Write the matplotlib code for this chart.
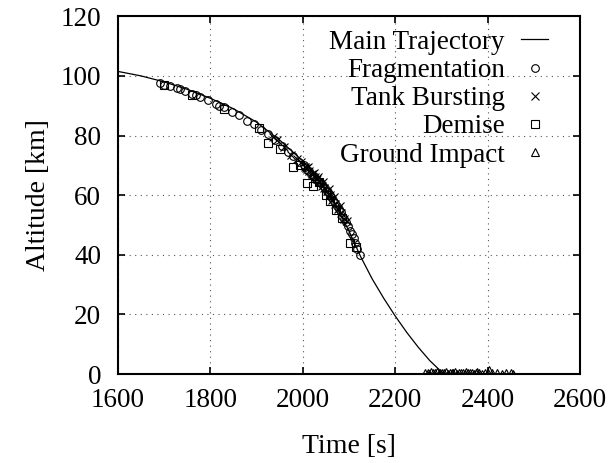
import matplotlib
matplotlib.use("Agg")
import matplotlib.pyplot as plt
import numpy as np

plt.rcParams["font.family"] = ["Liberation Serif", "DejaVu Serif"]

# main trajectory (time [s], altitude [km])
traj_t = [1600, 1650, 1700, 1750, 1800, 1850, 1900, 1950, 2000, 2025, 2050,
          2075, 2100, 2125, 2150, 2175, 2200, 2225, 2250, 2275, 2300, 2310]
traj_h = [101.5, 100.0, 98.0, 95.5, 92.5, 89.0, 84.5, 78.5, 71.5, 67.0, 62.0,
          55.5, 48.0, 39.5, 32.0, 25.5, 19.5, 14.0, 9.0, 4.5, 0.8, 0.0]

frag_t = [1692, 1700, 1712, 1728, 1735, 1745, 1760, 1770, 1778, 1795, 1812,
          1820, 1830, 1848, 1862, 1880, 1895, 1910, 1925, 1940, 1955, 1968,
          1980, 1992, 2002, 2006, 2010, 2014, 2018, 2022, 2025, 2028, 2032,
          2036, 2040, 2044, 2048, 2052, 2055, 2058, 2062, 2066, 2070, 2074,
          2078, 2082, 2086, 2090, 2094, 2098, 2102, 2106, 2110, 2114, 2118,
          2124]
frag_h = [97.5, 97.0, 96.5, 96.0, 95.5, 95.0, 94.0, 93.5, 93.0, 92.0, 90.5,
          90.0, 89.5, 88.0, 87.0, 85.0, 84.0, 82.0, 80.5, 78.5, 76.5, 74.5,
          73.0, 71.0, 70.0, 69.5, 68.5, 68.0, 67.0, 66.5, 66.5, 65.5, 65.0,
          64.5, 64.0, 63.0, 62.5, 61.5, 61.0, 60.0, 59.5, 58.5, 57.5, 56.5,
          55.5, 54.5, 53.0, 52.0, 51.0, 49.5, 48.0, 47.0, 45.5, 44.0, 42.0,
          40.0]

tank_t = [1935, 1945, 1960, 1975, 1988, 1996, 2004, 2008, 2014, 2020, 2026,
          2030, 2036, 2042, 2046, 2052, 2058, 2064, 2070, 2076, 2082, 2090,
          2012, 2024, 2034, 2044, 2056, 2068, 2080, 2096]
tank_h = [79.5, 78.5, 76.0, 73.5, 72.0, 71.0, 69.5, 69.0, 68.0, 67.0, 66.0,
          65.5, 64.5, 63.0, 62.5, 61.5, 60.0, 58.5, 57.0, 55.5, 54.0, 52.0,
          69.5, 67.5, 66.0, 64.5, 62.0, 59.5, 56.5, 51.5]

demise_t = [1700, 1760, 1830, 1905, 1925, 1950, 1980, 1995, 2010, 2022, 2035,
            2050, 2060, 2072, 2085, 2102, 2115]
demise_h = [97.0, 93.5, 89.0, 82.5, 77.5, 75.5, 69.5, 70.0, 64.0, 63.0, 64.5,
            60.0, 58.0, 55.0, 52.5, 44.0, 42.5]

ground_t = [2265, 2270, 2274, 2278, 2282, 2286, 2290, 2294, 2298, 2302, 2306,
            2310, 2314, 2318, 2322, 2326, 2330, 2334, 2338, 2342, 2346, 2350,
            2354, 2358, 2362, 2366, 2370, 2374, 2378, 2382, 2388, 2394, 2400,
            2404, 2410, 2420, 2430, 2440, 2450, 2455]
ground_h = [0.3, 0.5, 0.2, 0.6, 0.4, 0.3, 0.7, 0.2, 0.5, 0.4, 0.3, 0.6, 0.2,
            0.5, 0.4, 0.3, 0.6, 0.2, 0.4, 0.5, 0.3, 0.2, 0.6, 0.4, 0.3, 0.5,
            0.2, 0.4, 0.6, 0.3, 0.2, 0.4, 0.3, 1.3, 0.3, 0.4, 0.2, 0.5, 0.3,
            0.2]

fig = plt.figure(figsize=(6.1, 4.63), dpi=100)
ax = fig.add_axes([0.193, 0.192, 0.758, 0.773])

ax.plot(traj_t, traj_h, color="black", lw=0.9, label="Main Trajectory")
mk = dict(linestyle="none", color="black", mfc="none", ms=5.5, mew=0.8)
ax.plot(frag_t, frag_h, marker="o", label="Fragmentation", **mk)
ax.plot(tank_t, tank_h, marker="x", label="Tank Bursting", **mk)
ax.plot(demise_t, demise_h, marker="s", label="Demise", **mk)
ax.plot(ground_t, ground_h, marker="^", label="Ground Impact", **mk)

ax.set_xlim(1600, 2600)
ax.set_ylim(0, 120)
ax.set_xticks(np.arange(1600, 2601, 200))
ax.set_yticks(np.arange(0, 121, 20))
ax.grid(True, color="#555555", ls=(0, (1, 4)), lw=0.8)
ax.tick_params(direction="in", top=True, right=True, labelsize=19.5, length=5,
               width=1.2)
ax.tick_params(axis="x", pad=10)
ax.tick_params(axis="y", pad=12)
for sp in ax.spines.values():
    sp.set_linewidth(1.5)

ax.set_xlabel("Time [s]", fontsize=20, labelpad=15)
ax.set_ylabel("Altitude [km]", fontsize=20, labelpad=7)

ax.legend(loc="upper right", frameon=False, markerfirst=False, fontsize=19.5,
          handlelength=1.0, handletextpad=0.6, labelspacing=0.12,
          borderaxespad=0.1, bbox_to_anchor=(0.96, 1.0))

fig.savefig("out.png", dpi=100)
